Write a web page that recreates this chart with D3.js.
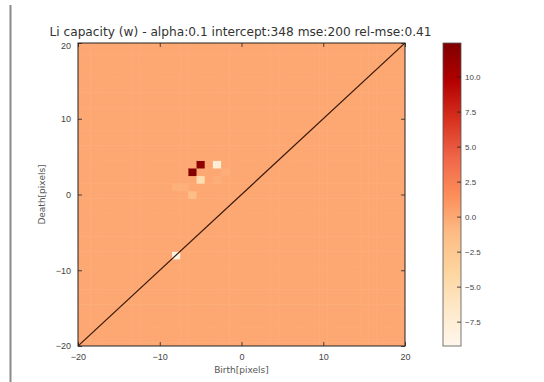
<!DOCTYPE html>
<html>
<head>
<meta charset="utf-8">
<script src="https://cdn.jsdelivr.net/npm/d3@7"></script>
<style>
  html, body { margin: 0; padding: 0; background: #ffffff; }
  svg { display: block; font-family: "DejaVu Sans", sans-serif; }
</style>
</head>
<body>
<svg id="chart" width="544" height="382"></svg>
<script>
// Persistence-image regression weights on a birth/death grid
const titleText = "Li capacity (w) - alpha:0.1 intercept:348 mse:200 rel-mse:0.41";
const xLabel = "Birth[pixels]";
const yLabel = "Death[pixels]";

const domainMin = -20;
const domainMax = 20;
const xTicks = [-20, -10, 0, 10, 20];
const yTicks = [-20, -10, 0, 10, 20];

// colour limits of the weight image
const vmin = -9.24;
const vmax = 12.4;
const cbTicks = [-7.5, -5.0, -2.5, 0.0, 2.5, 5.0, 7.5, 10.0];

// non-zero weights (cell centre birth, death, value); every other cell is 0
const spotBirth = [-6, -5, -3, -5, -8, -6, -8, -7, -3, -2];
const spotDeath = [3, 4, 4, 2, -8, 0, 1, 1, 2, 3];
const spotValue = [12.2, 11.6, -7.6, -5.0, -8.6, -1.3, -0.5, -0.5, -0.35, -0.3];

// matplotlib OrRd (ColorBrewer 9-class, linear segments)
const orrd = ["#fff7ec", "#fee8c8", "#fdd49e", "#fdbb84", "#fc8d59",
              "#ef6548", "#d7301f", "#b30000", "#7f0000"];

const svg = d3.select("#chart");

const plot = { left: 78, top: 43, right: 405, bottom: 346 };
const cb = { left: 443, right: 461, top: 43, bottom: 346 };

const x = d3.scaleLinear().domain([domainMin, domainMax]).range([plot.left, plot.right]);
const y = d3.scaleLinear().domain([domainMin, domainMax]).range([plot.bottom, plot.top]);

const color = d3.scaleLinear()
  .domain(orrd.map((_, i) => vmin + (vmax - vmin) * i / (orrd.length - 1)))
  .range(orrd)
  .interpolate(d3.interpolateRgb)
  .clamp(true);

// page edge line
svg.append("line")
  .attr("x1", 10.5).attr("x2", 10.5)
  .attr("y1", 5).attr("y2", 382)
  .attr("stroke", "#8a8a8a").attr("stroke-width", 2);

// build the grid of cells
const cells = [];
for (let b = domainMin; b <= domainMax; b++) {
  for (let d = domainMin; d <= domainMax; d++) {
    cells.push({ b, d, v: 0 });
  }
}
const cellIndex = (b, d) => (b - domainMin) * (domainMax - domainMin + 1) + (d - domainMin);
spotBirth.forEach((b, i) => { cells[cellIndex(b, spotDeath[i])].v = spotValue[i]; });

svg.append("clipPath").attr("id", "plotClip")
  .append("rect")
  .attr("x", plot.left).attr("y", plot.top)
  .attr("width", plot.right - plot.left).attr("height", plot.bottom - plot.top);

const img = svg.append("g").attr("clip-path", "url(#plotClip)");
img.selectAll("rect")
  .data(cells)
  .join("rect")
  .attr("x", d => x(d.b - 0.5))
  .attr("y", d => y(d.d + 0.5))
  .attr("width", d => x(d.b + 0.5) - x(d.b - 0.5) + 0.5)
  .attr("height", d => y(d.d - 0.5) - y(d.d + 0.5) + 0.5)
  .attr("fill", d => color(d.v));

// birth = death diagonal
img.append("line")
  .attr("x1", x(domainMin)).attr("y1", y(domainMin))
  .attr("x2", x(domainMax)).attr("y2", y(domainMax))
  .attr("stroke", "#3a1a0c").attr("stroke-width", 1.2);

// axes with inward ticks on all four sides
const tickStyle = g => {
  g.select(".domain").remove();
  g.selectAll(".tick line").attr("stroke", "#222").attr("stroke-width", 0.8);
  g.selectAll(".tick text").attr("fill", "#444").attr("font-size", "9px");
};
svg.append("g").attr("transform", `translate(0,${plot.bottom})`)
  .call(d3.axisBottom(x).tickValues(xTicks).tickSizeInner(-4).tickSizeOuter(0).tickPadding(8)
    .tickFormat(d => d3.format("d")(d).replace("-", "\u2212")))
  .call(tickStyle);
svg.append("g").attr("transform", `translate(0,${plot.top})`)
  .call(d3.axisTop(x).tickValues(xTicks).tickSizeInner(-4).tickSizeOuter(0).tickFormat(""))
  .call(tickStyle);
const yAxis = svg.append("g").attr("transform", `translate(${plot.left},0)`)
  .call(d3.axisLeft(y).tickValues(yTicks).tickSizeInner(-4).tickSizeOuter(0).tickPadding(7)
    .tickFormat(d => d3.format("d")(d).replace("-", "\u2212")))
  .call(tickStyle);
// the top label sits a little lower, clear of the title
yAxis.selectAll(".tick text").filter(d => d === domainMax).attr("dy", "0.62em");
svg.append("g").attr("transform", `translate(${plot.right},0)`)
  .call(d3.axisRight(y).tickValues(yTicks).tickSizeInner(-4).tickSizeOuter(0).tickFormat(""))
  .call(tickStyle);

svg.append("rect")
  .attr("x", plot.left).attr("y", plot.top)
  .attr("width", plot.right - plot.left).attr("height", plot.bottom - plot.top)
  .attr("fill", "none").attr("stroke", "#222").attr("stroke-width", 1);

// title and axis labels
svg.append("text")
  .attr("x", (plot.left + plot.right) / 2 - 1).attr("y", 36)
  .attr("text-anchor", "middle").attr("font-size", "12.2px").attr("fill", "#333")
  .text(titleText);
svg.append("text")
  .attr("x", (plot.left + plot.right) / 2).attr("y", 373)
  .attr("text-anchor", "middle").attr("font-size", "9px").attr("fill", "#555")
  .text(xLabel);
svg.append("text")
  .attr("transform", `translate(45,${(plot.top + plot.bottom) / 2}) rotate(-90)`)
  .attr("text-anchor", "middle").attr("font-size", "9px").attr("fill", "#555")
  .text(yLabel);

// colour bar
const cbScale = d3.scaleLinear().domain([vmin, vmax]).range([cb.bottom, cb.top]);
const grad = svg.append("defs").append("linearGradient")
  .attr("id", "cbGrad").attr("x1", 0).attr("y1", 1).attr("x2", 0).attr("y2", 0);
grad.selectAll("stop")
  .data(orrd)
  .join("stop")
  .attr("offset", (_, i) => i / (orrd.length - 1))
  .attr("stop-color", d => d);
svg.append("rect")
  .attr("x", cb.left).attr("y", cb.top)
  .attr("width", cb.right - cb.left).attr("height", cb.bottom - cb.top)
  .attr("fill", "url(#cbGrad)").attr("stroke", "#555").attr("stroke-width", 0.8);
svg.append("g").attr("transform", `translate(${cb.right},0)`)
  .call(d3.axisRight(cbScale).tickValues(cbTicks).tickSizeInner(-4).tickSizeOuter(0).tickPadding(4)
    .tickFormat(d => d3.format(".1f")(d).replace("-", "\u2212")))
  .call(tickStyle)
  .call(g => g.selectAll(".tick text").attr("font-size", "8px"));
</script>
</body>
</html>
